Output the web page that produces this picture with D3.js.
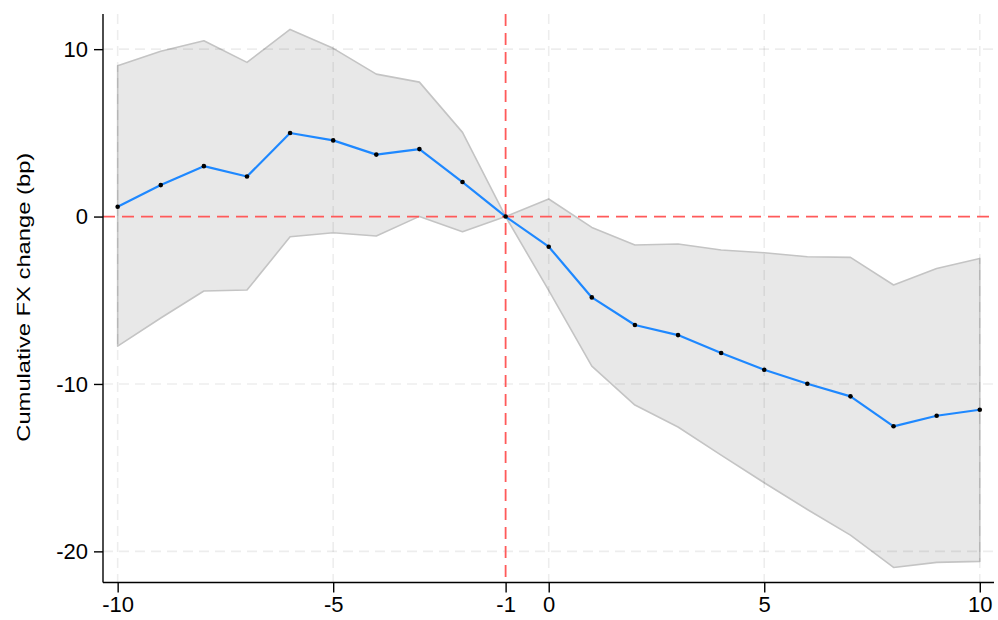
<!DOCTYPE html>
<html>
<head>
<meta charset="utf-8">
<script src="https://cdn.jsdelivr.net/npm/d3@7"></script>
<style>
  body { margin: 0; background: #fff; }
  text { font-family: "Liberation Sans", Arial, Helvetica, sans-serif; }
</style>
</head>
<body>
<div id="chart"></div>
<script>
// event time (days relative to announcement)
var days = [-10, -9, -8, -7, -6, -5, -4, -3, -2, -1, 0, 1, 2, 3, 4, 5, 6, 7, 8, 9, 10];
// cumulative FX change, point estimate (bp)
var estimate = [0.59, 1.88, 3.01, 2.39, 4.99, 4.55, 3.70, 4.03, 2.06, 0, -1.80, -4.83, -6.48, -7.08, -8.15, -9.15, -9.99, -10.74, -12.53, -11.90, -11.54];
// confidence band
var upper = [9.01, 9.87, 10.50, 9.21, 11.18, 10.05, 8.51, 8.03, 5.03, 0, 1.05, -0.65, -1.70, -1.64, -2.00, -2.16, -2.40, -2.44, -4.09, -3.10, -2.50];
var lower = [-7.74, -6.06, -4.45, -4.39, -1.21, -0.97, -1.16, 0.01, -0.91, 0, -4.41, -8.93, -11.26, -12.57, -14.25, -15.90, -17.50, -19.03, -20.96, -20.66, -20.60];

var xTicks = [-10, -5, -1, 0, 5, 10];
var xGrid = [-10, -5, 0, 5, 10];
var yTicks = [10, 0, -10, -20];

var width = 998, height = 620;
var padL = 103, padR = 994, padT = 14, padB = 582.5;

var data = days.map(function (d, i) {
    return { day: d, est: estimate[i], hi: upper[i], lo: lower[i] };
});

var x = d3.scaleLinear().domain([-10.34, 10.33]).range([padL, padR]);
var y = d3.scaleLinear().domain([-21.86, 12.1]).range([padB, padT]);

var fmt = function (d) { return String(d); };

var svg = d3.select("#chart")
    .append("svg")
    .attr("width", width)
    .attr("height", height);

// confidence band
var area = d3.area()
    .x(function (d) { return x(d.day); })
    .y0(function (d) { return y(d.lo); })
    .y1(function (d) { return y(d.hi); });

svg.append("path")
    .datum(data)
    .attr("d", area)
    .attr("fill", "#e8e8e8")
    .attr("stroke", "#c4c4c4")
    .attr("stroke-width", 1.6)
    .attr("stroke-linejoin", "round");

// grid
svg.append("g").selectAll("line")
    .data(xGrid)
    .enter().append("line")
    .attr("x1", function (d) { return x(d); })
    .attr("x2", function (d) { return x(d); })
    .attr("y1", padT)
    .attr("y2", padB)
    .attr("stroke", "rgba(0,0,0,0.07)")
    .attr("stroke-width", 1.6)
    .attr("stroke-dasharray", "10,6");

svg.append("g").selectAll("line")
    .data(yTicks.filter(function (d) { return d !== 0; }))
    .enter().append("line")
    .attr("x1", padL)
    .attr("x2", padR)
    .attr("y1", function (d) { return y(d); })
    .attr("y2", function (d) { return y(d); })
    .attr("stroke", "rgba(0,0,0,0.07)")
    .attr("stroke-width", 1.6)
    .attr("stroke-dasharray", "10,6");

// reference lines
svg.append("line")
    .attr("x1", padL).attr("x2", padR)
    .attr("y1", y(0)).attr("y2", y(0))
    .attr("stroke", "#ff5a5a")
    .attr("stroke-width", 1.8)
    .attr("stroke-dasharray", "12,7");

svg.append("line")
    .attr("x1", x(-1)).attr("x2", x(-1))
    .attr("y1", padT).attr("y2", padB)
    .attr("stroke", "#ff5a5a")
    .attr("stroke-width", 1.8)
    .attr("stroke-dasharray", "12,7");

// estimate line
var line = d3.line()
    .x(function (d) { return x(d.day); })
    .y(function (d) { return y(d.est); });

svg.append("path")
    .datum(data)
    .attr("d", line)
    .attr("fill", "none")
    .attr("stroke", "#1e88ff")
    .attr("stroke-width", 2.2)
    .attr("stroke-linejoin", "round");

svg.append("g").selectAll("circle")
    .data(data)
    .enter().append("circle")
    .attr("cx", function (d) { return x(d.day); })
    .attr("cy", function (d) { return y(d.est); })
    .attr("r", 2.3)
    .attr("fill", "#000");

// axes
var xAxis = svg.append("g")
    .attr("transform", "translate(0," + padB + ")")
    .call(d3.axisBottom(x).tickValues(xTicks).tickSize(10).tickPadding(4).tickFormat(fmt));

var yAxis = svg.append("g")
    .attr("transform", "translate(" + padL + ",0)")
    .call(d3.axisLeft(y).tickValues(yTicks).tickSize(9).tickPadding(6).tickFormat(fmt));

[xAxis, yAxis].forEach(function (g) {
    g.select(".domain").attr("stroke", "#000").attr("stroke-width", 1.4);
    g.selectAll(".tick line").attr("stroke", "#000").attr("stroke-width", 1.4);
    g.selectAll(".tick text").attr("font-size", "22px").attr("fill", "#000")
        .attr("font-family", "'Liberation Sans', Arial, sans-serif");
});

// plain domain lines, no end caps
xAxis.select(".domain").attr("d", "M" + padL + ",0H" + padR);
yAxis.select(".domain").attr("d", "M0," + padT + "V" + padB);

svg.append("text")
    .attr("transform", "translate(30," + ((padT + padB) / 2 - 1) + ") rotate(-90)")
    .attr("text-anchor", "middle")
    .attr("font-size", "19px")
    .attr("textLength", 289)
    .attr("lengthAdjust", "spacingAndGlyphs")
    .attr("fill", "#000")
    .text("Cumulative FX change (bp)");
</script>
</body>
</html>
